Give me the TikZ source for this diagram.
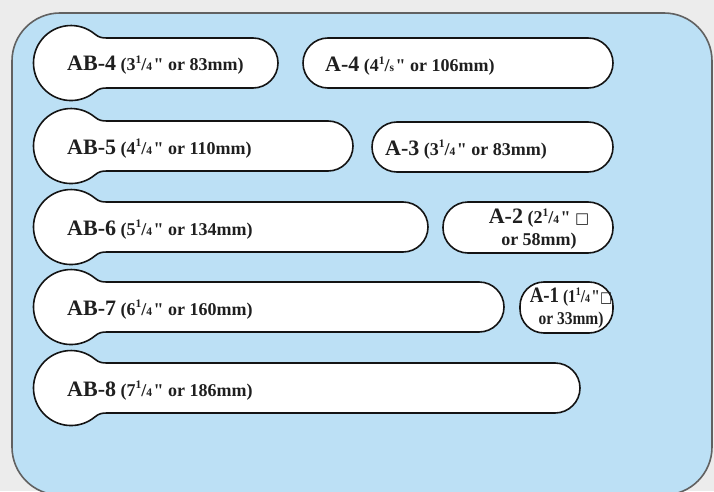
\documentclass[tikz,border=0pt]{standalone}
\usepackage{fontspec}
\setmainfont{Liberation Serif}[Ligatures=TeXOff]
\newfontfamily\boxglyphfont{DejaVu Sans}
\definecolor{pagegray}{RGB}{236,236,236}
\definecolor{panelblue}{RGB}{188,224,245}
\colorlet{outlinecolor}{black!92}
\colorlet{labelcolor}{black!88}
\tikzset{
  panel frame/.style={fill=panelblue, draw=black!62, line width=1.6pt,
      rounded corners=48pt},
  stick outline/.style={fill=white, draw=outlinecolor, line width=1.6pt},
  size label/.style={
      anchor=base west,
      inner sep=0pt,
      text=labelcolor,
      font=\bfseries\fontsize{18}{21}\selectfont
    },
  split label/.style={
      inner sep=0pt,
      align=center,
      text=labelcolor,
      font=\bfseries\fontsize{18}{22}\selectfont
    }
}
% model number, set larger than the size in brackets
\newcommand{\modelno}[1]{{\fontsize{22}{24}\selectfont #1}}
% small split fraction as printed, e.g. 3 1/4
\newcommand{\inchfrac}[2]{\raisebox{0.40em}{\fontsize{11.5}{11.5}\selectfont #1}/{\fontsize{11.5}{11.5}\selectfont #2}}
\newcommand{\inchmark}{\kern1.5pt"}
\newcommand{\boxglyph}{{\boxglyphfont\fontsize{15}{15}\selectfont □}}
% stick with round grip: #1 = centre line, #2 = right end
\newcommand{\gripstick}[2]{%
  \draw[stick outline]
  (#2-25,#1+25) -- (107,#1+25)
  to[out=180,in=-40] (95.1,#1+28.7)
  arc[start angle=50,end angle=310,radius=37.5pt]
  to[out=40,in=180] (107,#1-25)
  -- (#2-25,#1-25)
  arc[start angle=-90,end angle=90,radius=25pt] -- cycle;}

\begin{document}
\begin{tikzpicture}[x=1pt,y=1pt]

  % ------------------------------------------------------------------
  % Page and blue panel.
  % ------------------------------------------------------------------
  \fill[pagegray] (0,0) rectangle (714,491);
  \useasboundingbox (0,0) rectangle (714,491);
  \begin{scope}
    \clip (0,0) rectangle (714,491);
    \draw[panel frame] (12,-4) rectangle (712,478);
  \end{scope}

  % ------------------------------------------------------------------
  % Sticks with grip, AB series.
  % ------------------------------------------------------------------
  \gripstick{428}{278}
  \gripstick{345}{353}
  \gripstick{264}{428}
  \gripstick{184}{504}
  \gripstick{103}{580}

  \node[size label] (ab4) at (67,420) {\modelno{AB-4} (3\inchfrac{1}{4}\inchmark{} or 83mm)};
  \node[size label] (ab5) at (67,337) {\modelno{AB-5} (4\inchfrac{1}{4}\inchmark{} or 110mm)};
  \node[size label] (ab6) at (67,256) {\modelno{AB-6} (5\inchfrac{1}{4}\inchmark{} or 134mm)};
  \node[size label] (ab7) at (67,176) {\modelno{AB-7} (6\inchfrac{1}{4}\inchmark{} or 160mm)};
  \node[size label] (ab8) at (67,95) {\modelno{AB-8} (7\inchfrac{1}{4}\inchmark{} or 186mm)};

  % ------------------------------------------------------------------
  % Plain sticks, A series.
  % ------------------------------------------------------------------
  \draw[stick outline, rounded corners=25pt] (303,403) rectangle (613,453);
  \draw[stick outline, rounded corners=25pt] (372,319) rectangle (613,369);
  \draw[stick outline, rounded corners=25pt] (443,238) rectangle (613,289);
  \draw[stick outline, rounded corners=24pt] (520,158) rectangle (613,209);

  \node[size label] (a4) at (325,419) {\modelno{A-4} (4\inchfrac{1}{s}\inchmark{} or 106mm)};
  \node[size label] (a3) at (385,336) {\modelno{A-3} (3\inchfrac{1}{4}\inchmark{} or 83mm)};

  \node[split label] (a2) at (539,262)
  {\modelno{A-2} (2\inchfrac{1}{4}\inchmark{} \boxglyph\\ or 58mm)};
  \node[split label, xscale=0.86] (a1) at (571,183)
  {\modelno{A-1} (1\inchfrac{1}{4}\inchmark\boxglyph\\ or 33mm)};

\end{tikzpicture}
\end{document}
